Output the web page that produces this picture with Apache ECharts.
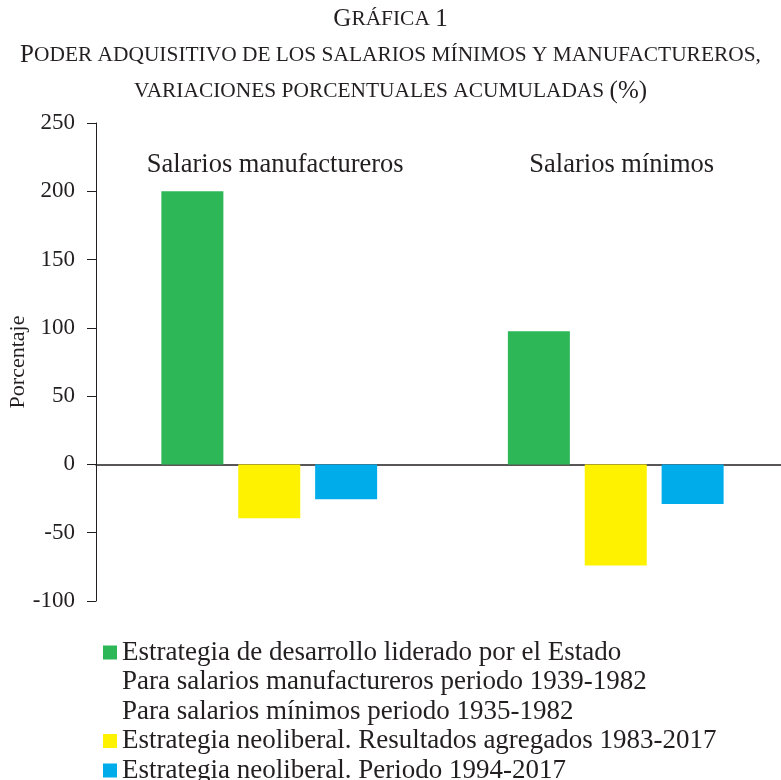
<!DOCTYPE html>
<html>
<head>
<meta charset="utf-8">
<script src="https://cdn.jsdelivr.net/npm/echarts@6/dist/echarts.min.js"></script>
<style>html,body{margin:0;padding:0;background:#fff}#c{width:781px;height:780px}</style>
</head>
<body>
<div id="c"></div>
<script>
const categories = ['Salarios manufactureros', 'Salarios mínimos'];
const seriesNames = [
  'Estrategia de desarrollo liderado por el Estado',
  'Estrategia neoliberal. Resultados agregados 1983-2017',
  'Estrategia neoliberal. Periodo 1994-2017'
];
const noteLines = [
  'Para salarios manufactureros periodo 1939-1982',
  'Para salarios mínimos periodo 1935-1982'
];
const estadoValues = [200, 97.5];
const neoAggValues = [-39.5, -74];
const neoPeriodValues = [-25.5, -29];
const yTicks = { min: -100, max: 250, interval: 50 };
const titleLines = [
  'Gráfica 1',
  'Poder adquisitivo de los salarios mínimos y manufactureros,',
  'variaciones porcentuales acumuladas (%)'
];
const yAxisName = 'Porcentaje';

const FONT = '"Liberation Serif", "DejaVu Serif", serif';
const TXT = '#231f20';
const colors = ['#2db757', '#fff200', '#00adea'];

function smallCaps(line) {
  let out = '';
  let cur = null, buf = '';
  for (const ch of line) {
    const isBig = (ch !== ch.toLowerCase()) || /[0-9%()]/.test(ch);
    const st = isBig ? 'b' : 's';
    const c = isBig ? ch : ch.toUpperCase();
    if (st !== cur) { if (buf) out += '{' + cur + '|' + buf + '}'; cur = st; buf = ''; }
    buf += c;
  }
  if (buf) out += '{' + cur + '|' + buf + '}';
  return out;
}

const chart = echarts.init(document.getElementById('c'));
const seriesData = [estadoValues, neoAggValues, neoPeriodValues];
const series = seriesNames.map((n, i) => ({
  name: n, type: 'bar', data: seriesData[i], xAxisIndex: 0,
  barWidth: 62, barGap: '24%',
  itemStyle: { color: colors[i] }, silent: true
}));
noteLines.forEach(n => series.push({ name: n, type: 'line', data: [], xAxisIndex: 0 }));

const legendData = [
  { name: seriesNames[0] },
  { name: noteLines[0], itemStyle: { color: 'rgba(0,0,0,0)' } },
  { name: noteLines[1], itemStyle: { color: 'rgba(0,0,0,0)' } },
  { name: seriesNames[1] },
  { name: seriesNames[2] }
];

chart.setOption({
  backgroundColor: '#fff',
  animation: false,
  color: colors,
  title: {
    left: 'center', top: 1, padding: 0,
    text: titleLines.map(smallCaps).join('\n'),
    textStyle: {
      fontFamily: FONT, color: TXT, fontWeight: 'normal', lineHeight: 36,
      rich: {
        b: { fontFamily: FONT, fontSize: 25, color: TXT, lineHeight: 36 },
        s: { fontFamily: FONT, fontSize: 21.4, color: TXT, lineHeight: 36 }
      }
    }
  },
  legend: {
    orient: 'vertical', left: 103, top: 639, height: 200, padding: 0,
    icon: 'rect', itemWidth: 14, itemHeight: 14, itemGap: 2.5,
    selectedMode: false,
    data: legendData,
    textStyle: { fontFamily: FONT, fontSize: 27, color: TXT }
  },
  grid: { left: 96, width: 693, top: 123, bottom: 179, outerBoundsMode: 'none', containLabel: false },
  xAxis: [
    {
      type: 'category', data: categories, position: 'bottom',
      axisLine: { onZero: true, lineStyle: { color: TXT, width: 1.5 } },
      axisTick: { show: false }, axisLabel: { show: false }, splitLine: { show: false }
    },
    {
      type: 'category', data: categories, position: 'top',
      axisLine: { show: false }, axisTick: { show: false },
      axisLabel: { inside: true, margin: 29, fontFamily: FONT, fontSize: 26.5, color: TXT, padding: [0, 0, 0, 12] }
    }
  ],
  yAxis: {
    type: 'value', min: yTicks.min, max: yTicks.max, interval: yTicks.interval,
    name: yAxisName, nameLocation: 'middle', nameGap: 67, nameMoveOverlap: false,
    nameTextStyle: { fontFamily: FONT, fontSize: 22, color: TXT },
    axisLine: { show: true, lineStyle: { color: TXT, width: 1 } },
    axisTick: { show: true, length: 9, lineStyle: { color: TXT } },
    axisLabel: { margin: 21, fontFamily: FONT, fontSize: 23, color: TXT },
    splitLine: { show: false }
  },
  series: series
});
</script>
</body>
</html>
